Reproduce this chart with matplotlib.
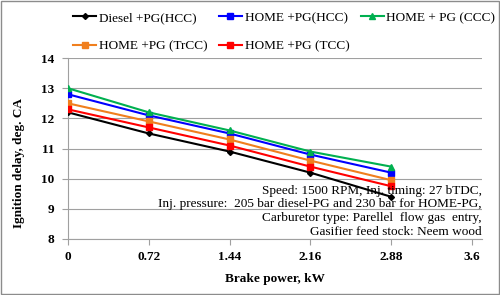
import matplotlib.pyplot as plt
from matplotlib.patches import Rectangle

# data
brake_power = [0, 0.72, 1.44, 2.16, 2.88]
diesel_hcc = [12.2, 11.5, 10.9, 10.2, 9.4]
home_hcc = [12.8, 12.1, 11.5, 10.8, 10.2]
home_ccc = [13.0, 12.2, 11.6, 10.9, 10.4]
home_trcc = [12.5, 11.9, 11.3, 10.6, 9.95]
home_tcc = [12.3, 11.7, 11.1, 10.4, 9.75]
x_ticks = [0, 0.72, 1.44, 2.16, 2.88, 3.6]
y_ticks = [8, 9, 10, 11, 12, 13, 14]

plt.rcParams['font.family'] = ['Liberation Serif', 'DejaVu Serif']

fig = plt.figure(figsize=(5, 2.95), dpi=100)
ax = fig.add_axes([0.136, 0.190, 0.828, 0.613])

series = [
    ("Diesel +PG(HCC)", diesel_hcc, 'black', 'D', 3),
    ("HOME +PG(HCC)", home_hcc, '#0000FF', 's', 4.5),
    ("HOME + PG (CCC)", home_ccc, '#00B050', '^', 5),
    ("HOME +PG (TrCC)", home_trcc, '#F07F1E', 's', 4.5),
    ("HOME +PG (TCC)", home_tcc, '#FF0000', 's', 4.5),
]
handles = []
for label, vals, color, marker, ms in series:
    h, = ax.plot(brake_power, vals, color=color, marker=marker, markersize=ms,
                 linewidth=1.5, label=label, zorder=3)
    handles.append(h)

ax.set_xlim(0, 3.69)
ax.set_ylim(8, 14)
ax.set_xticks(x_ticks)
ax.set_xticklabels(['0', '0.72', '1.44', '2.16', '2.88', '3.6'])
ax.set_yticks(y_ticks)
ax.grid(axis='y', color='#A0A0A0', linewidth=0.8)
for side in ['top', 'right']:
    ax.spines[side].set_visible(False)
for side in ['left', 'bottom']:
    ax.spines[side].set_color('#A0A0A0')
ax.tick_params(colors='#A0A0A0', labelcolor='black', length=4, width=0.8)
for lbl in ax.get_xticklabels() + ax.get_yticklabels():
    lbl.set_fontweight('bold')
    lbl.set_fontsize(9.5)
ax.tick_params(axis='x', pad=5)
ax.tick_params(axis='y', pad=6)

ax.set_xlabel('Brake power, kW', fontsize=9.5, fontweight='bold', labelpad=7)
ax.set_ylabel('Ignition delay, deg. CA', fontsize=9.5, fontweight='bold')
ax.yaxis.set_label_coords(-0.105, 0.42)

ax.text(1.0, 0.30,
        "Speed: 1500 RPM, Inj. timing: 27 bTDC,\n"
        "Inj. pressure:  205 bar diesel-PG and 230 bar for HOME-PG,\n"
        "Carburetor type: Parellel  flow gas  entry,\n"
        "Gasifier feed stock: Neem wood",
        transform=ax.transAxes, ha='right', va='top', fontsize=9.5,
        linespacing=1.2, zorder=4)

order = [0, 3, 1, 4, 2]
fig.legend([handles[i] for i in order], [series[i][0] for i in order],
           ncol=3, loc='upper left', bbox_to_anchor=(0.123, 1.0),
           frameon=False, fontsize=9.5, handlelength=1.75, handletextpad=0.2,
           columnspacing=0.85, labelspacing=1.2)

fig.patches.append(Rectangle((0.001, 0.002), 0.997, 0.995, transform=fig.transFigure,
                             fill=False, edgecolor='#8C8C8C', linewidth=1))

fig.savefig('out.png', dpi=100)
